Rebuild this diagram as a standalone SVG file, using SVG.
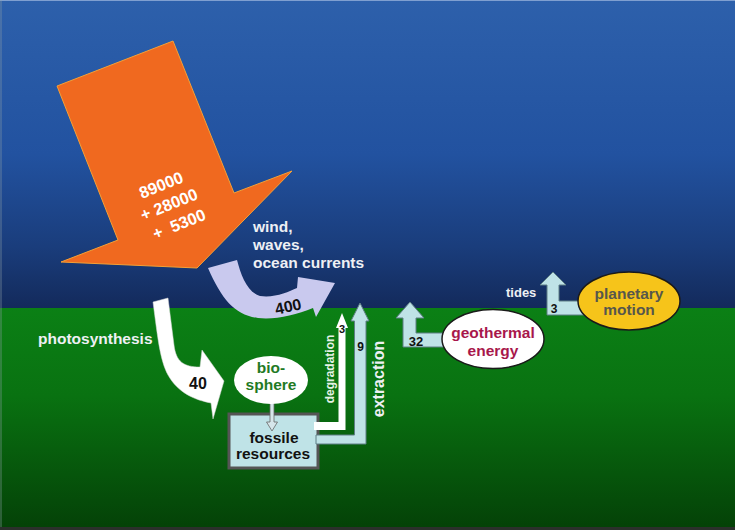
<svg xmlns="http://www.w3.org/2000/svg" width="735" height="530" viewBox="0 0 735 530">
<defs>
<linearGradient id="sky" x1="0" y1="0" x2="0" y2="308" gradientUnits="userSpaceOnUse">
<stop offset="0" stop-color="#2d60ab"/>
<stop offset="0.5" stop-color="#2252a0"/>
<stop offset="0.8" stop-color="#1a3d7c"/>
<stop offset="1" stop-color="#132a5b"/>
</linearGradient>
<linearGradient id="ground" x1="0" y1="308" x2="0" y2="527" gradientUnits="userSpaceOnUse">
<stop offset="0" stop-color="#0b8015"/>
<stop offset="0.4" stop-color="#097211"/>
<stop offset="1" stop-color="#044207"/>
</linearGradient>
<style>
text{font-family:"Liberation Sans",Arial,sans-serif;font-weight:bold}
.w{fill:#ffffff}
.lbl{fill:#eef0f4}
.num{fill:#111111}
.lb{fill:#bfe3e7;stroke:#5f7f86;stroke-width:1}
.ell{stroke:#1a1a1a;stroke-width:1.5}
</style>
</defs>

<rect x="0" y="0" width="735" height="308" fill="url(#sky)"/>
<rect x="0" y="308" width="735" height="222" fill="url(#ground)"/>
<rect x="0" y="527" width="735" height="3" fill="#2b302b"/>
<line x1="0" y1="0.5" x2="735" y2="0.5" stroke="#7f9fd0" stroke-width="1"/>
<line x1="1" y1="0" x2="1" y2="527" stroke="#8ea0a8" stroke-width="1" opacity="0.6"/>

<g id="sun">
<polygon points="57,86 173,41 234,193 292,171 197,268 61,262 118,240" fill="#f0691f" stroke="#f6a035" stroke-width="1"/>
<g transform="rotate(-22 170 207)" text-anchor="middle" font-size="16.5" class="w">
<text x="170" y="189" class="w">89000</text>
<text x="170" y="210" class="w">+ 28000</text>
<text x="172" y="232" class="w" xml:space="preserve">+  5300</text>
</g>
</g>

<g id="fossile">
<rect x="229" y="414" width="89" height="54" fill="#bfe3e7" stroke="#555555" stroke-width="3"/>
<text x="274" y="443" text-anchor="middle" font-size="15.5" class="num">fossile</text>
<text x="273" y="459" text-anchor="middle" font-size="15.5" class="num">resources</text>
</g>

<g id="connectors">
<g id="wind">
<path d="M208,268 L237,260 C241,275 247,292 260,296 C275,298 288,292 297,288 L298,277 L335,283 L316,317 L313,308 C295,315 275,320 258,318 C235,315 222,300 208,268 Z" fill="#c9c9ee"/>
<text x="288" y="312" text-anchor="middle" font-size="16" class="num" transform="rotate(-12 288 306)">400</text>
<text x="253" y="232" font-size="15.5" class="lbl">wind,</text>
<text x="253" y="250" font-size="15.5" class="lbl">waves,</text>
<text x="253" y="268" font-size="15.5" class="lbl">ocean currents</text>
</g>
<g id="photosynthesis">
<path d="M153,302 L168,298 L174,345 C176,362 184,367 200,367 L202,350 L224,381 L213,419 L211,403 C195,400 178,393 168,375 C160,360 158,340 153,302 Z" fill="#ffffff" stroke="#d8d8d8" stroke-width="0.5"/>
<text x="198" y="389" text-anchor="middle" font-size="16" class="num">40</text>
<text x="38" y="344" font-size="15.5" class="lbl">photosynthesis</text>
</g>
<g id="bio-to-fossile">
<path d="M270,400 L274,400 L274,422 L277.5,422 L272,431 L266.5,422 L270,422 Z" fill="#d6e6ea" stroke="#666666" stroke-width="0.8"/>
</g>
<g id="degradation">
<polygon points="342,313 348,328 345.5,328 345.5,430 314,430 314,422 338.5,422 338.5,328 336,328" fill="#ffffff"/>
<text x="342" y="333" text-anchor="middle" font-size="11" class="num">3</text>
<text transform="translate(334 369) rotate(-90)" text-anchor="middle" font-size="12" fill="#e6f2e6">degradation</text>
</g>
<g id="extraction">
<polygon points="360,303 369,321 366,321 366,444 316,444 316,435 354.5,435 354.5,321 351,321" class="lb"/>
<text x="360.5" y="351" text-anchor="middle" font-size="12" class="num">9</text>
<text transform="translate(384 379) rotate(-90)" text-anchor="middle" font-size="16" class="lbl">extraction</text>
</g>
<g id="geothermal-flow">
<polygon points="410,302 424,318 416,318 416,333 448,333 448,347 403,347 403,318 396,318" class="lb"/>
<text x="416" y="346" text-anchor="middle" font-size="13" class="num">32</text>
</g>
<g id="tides">
<polygon points="553,272 566,285 559,285 559,301 584,301 584,315 547,315 547,285 540,285" class="lb"/>
<text x="554" y="313" text-anchor="middle" font-size="12" class="num">3</text>
<text x="506" y="297" font-size="13" class="lbl">tides</text>
</g>
</g>

<g id="biosphere">
<ellipse cx="271" cy="380" rx="37" ry="24" fill="#ffffff"/>
<text x="271" y="373" text-anchor="middle" font-size="15.5" fill="#1f7a24">bio-</text>
<text x="271" y="390" text-anchor="middle" font-size="15.5" fill="#1f7a24">sphere</text>
</g>

<g id="geothermal">
<ellipse cx="493" cy="339" rx="51" ry="29.5" fill="#ffffff" class="ell"/>
<text x="493" y="338" text-anchor="middle" font-size="15.5" fill="#a8174b">geothermal</text>
<text x="493" y="356" text-anchor="middle" font-size="15.5" fill="#a8174b">energy</text>
</g>

<g id="planetary">
<ellipse cx="629" cy="301" rx="51" ry="29" fill="#f6c41a" class="ell"/>
<text x="629" y="299" text-anchor="middle" font-size="15.5" fill="#57574c">planetary</text>
<text x="629" y="315" text-anchor="middle" font-size="15.5" fill="#57574c">motion</text>
</g>
</svg>
